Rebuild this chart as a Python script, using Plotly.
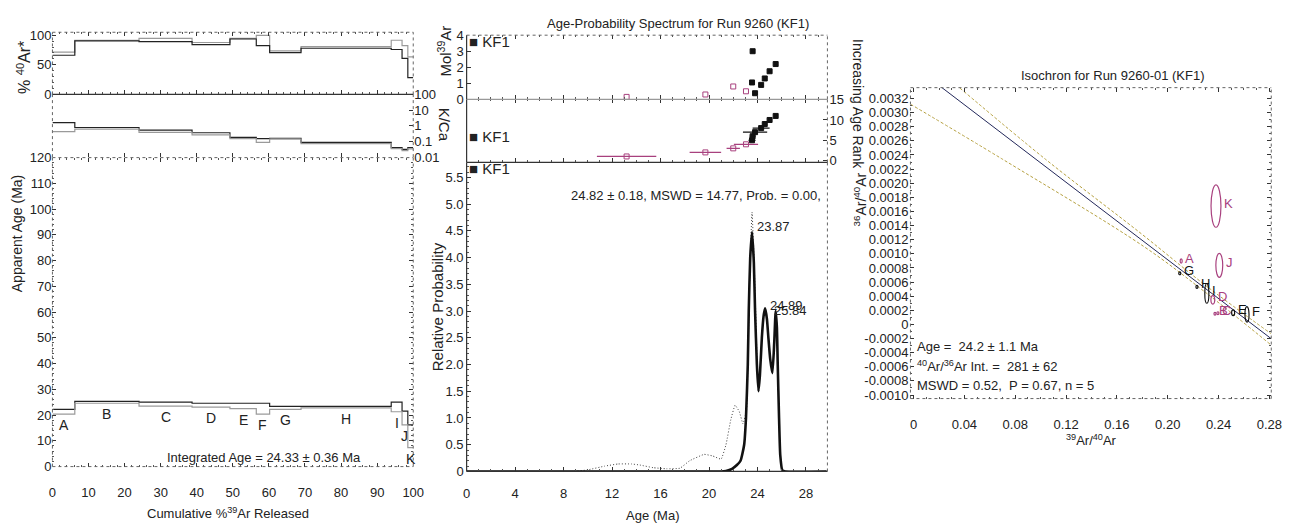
import plotly.graph_objects as go

W, H = 1304, 529
FONT = "Liberation Sans, Arial, sans-serif"

# ---------------- Left: age spectrum ----------------
step_labels = ['A', 'B', 'C', 'D', 'E', 'F', 'G', 'H', 'I', 'J', 'K']
cum_start = [0.0, 6.2, 24.0, 38.7, 49.2, 56.5, 60.2, 68.9, 93.9, 96.9, 98.5]
cum_end = [6.2, 24.0, 38.7, 49.2, 56.5, 60.2, 68.9, 93.9, 96.9, 98.5, 100.0]
app_age = [21.3, 24.95, 24.25, 23.85, 23.55, 22.5, 22.8, 23.1, 23.15, 18.85, 11.8]
app_age_err = [0.9, 0.35, 0.75, 0.75, 1.05, 2.1, 0.6, 0.3, 1.85, 2.65, 4.4]
rad40 = [68.8, 90.85, 91.9, 85.75, 94.05, 90.9, 72.0, 79.25, 83.6, 71.55, 45.95]
rad40_err = [2.7, 0.55, 2.7, 1.85, 0.55, 8.6, 1.5, 1.35, 7.8, 10.75, 17.45]
kca_low = [0.42, 0.61, 0.38, 0.26, 0.15, 0.087, 0.14, 0.072, 0.035, 0.026, 0.034]
kca_high = [1.6, 0.78, 0.53, 0.36, 0.18, 0.15, 0.16, 0.087, 0.040, 0.031, 0.040]
integrated_age_text = "Integrated Age = 24.33 ± 0.36 Ma"
age_ticks = [0, 10, 20, 30, 40, 50, 60, 70, 80, 90, 100, 110, 120]
cum_ticks = [0, 10, 20, 30, 40, 50, 60, 70, 80, 90, 100]
rad_ticks = [0, 50, 100]
kca_ticks = [0.01, 0.1, 1, 10, 100]
kca_ticktext = ['0.01', '0.1', '1', '10', '100']

# ---------------- Middle: age-probability ----------------
prob_age = [0, 21.0, 21.4, 21.9, 22.3, 22.6, 22.9, 23.05, 23.2, 23.28, 23.4, 23.55, 23.7,
            23.8, 23.95, 24.08, 24.2, 24.36, 24.5, 24.63, 24.78, 24.9, 25.05, 25.23, 25.38,
            25.5, 25.6, 25.67, 25.78, 25.88, 26.05, 26.3, 29.7]
prob_val = [0, 0, 0.01, 0.05, 0.12, 0.2, 0.5, 1.0, 2.0, 3.0, 4.0, 4.48, 3.9,
            3.0, 2.0, 1.5, 1.8, 2.5, 2.9, 3.05, 2.85, 2.5, 2.1, 1.84, 2.4,
            3.0, 2.7, 2.0, 1.0, 0.3, 0.02, 0, 0]
prob_all_age = [0, 8.8, 10.0, 11.4, 12.5, 13.6, 14.3, 15.4, 16.5, 17.6, 18.4, 19.6, 20.3,
                21.0, 21.4, 21.8, 22.15, 22.5, 22.8, 23.1, 23.25, 23.4, 23.55, 23.7, 23.85,
                24.0, 24.08]
prob_all_val = [0, 0, 0.03, 0.1, 0.14, 0.14, 0.12, 0.07, 0.05, 0.06, 0.2, 0.32, 0.29,
                0.23, 0.5, 0.97, 1.24, 1.12, 0.89, 1.15, 2.5, 4.0, 4.85, 4.1, 3.0,
                1.8, 1.5]
step_age_ma = [13.2, 19.7, 22.0, 23.05, 23.55, 23.6, 23.8, 24.3, 24.6, 25.0, 25.5]
step_age_err = [2.45, 1.3, 0.55, 1.0, 0.3, 0.25, 1.0, 0.7, 0.2, 0.15, 0.15]
mol39 = [0.15, 0.3, 0.8, 0.5, 1.05, 3.0, 0.38, 0.9, 1.3, 1.75, 2.2]
age_rank = [1, 2, 3, 4, 5, 6, 7, 8, 9, 10, 11]
step_included = [False, False, False, False, True, True, True, True, True, True, True]
peak_text = ['23.87', '24.89', '25.84']
peak_x = [23.55, 24.63, 25.5]
peak_y = [4.48, 3.05, 3.0]
wm_text = "24.82 ± 0.18, MSWD = 14.77, Prob. = 0.00,"
ma_ticks = [0, 4, 8, 12, 16, 20, 24, 28]
prob_ticks = [0, 0.5, 1.0, 1.5, 2.0, 2.5, 3.0, 3.5, 4.0, 4.5, 5.0, 5.5]
prob_ticktext = ['0', '0.5', '1.0', '1.5', '2.0', '2.5', '3.0', '3.5', '4.0', '4.5', '5.0', '5.5']
rank_ticks = [0, 5, 10, 15]
mol_ticks = [0, 1, 2, 3, 4]

# ---------------- Right: isochron ----------------
iso_label = ['A', 'B', 'C', 'D', 'E', 'F', 'G', 'H', 'I', 'J', 'K']
iso_x = [0.2106, 0.2372, 0.2395, 0.2355, 0.2515, 0.2624, 0.2095, 0.2230, 0.2308, 0.2406, 0.2380]
iso_y = [0.000898, 0.000151, 0.000160, 0.000348, 0.000165, 0.000142, 0.000724, 0.000532,
         0.000440, 0.000838, 0.001677]
iso_sx = [0.0008, 0.0008, 0.0008, 0.0015, 0.0012, 0.0016, 0.0008, 0.0008, 0.0016, 0.0027, 0.0039]
iso_sy = [0.00003, 0.00002, 0.00002, 0.00006, 0.00004, 0.00011, 0.00002, 0.00002, 0.00014,
          0.00017, 0.0003]
iso_included = [False, False, False, False, True, True, True, True, True, False, False]
iso_line_x = [0.0, 0.2815]
iso_line_y = [0.00366, -0.000202]
env_up_x = [0.0363, 0.1037, 0.179, 0.23, 0.2815]
env_up_y = [0.00335, 0.002341, 0.001288, 0.00055, -0.000133]
env_lo_x = [-0.0025, 0.07, 0.1815, 0.23, 0.2815]
env_lo_y = [0.00312, 0.00234, 0.0011, 0.00045, -0.000293]
iso_text = ["Age =  24.2 ± 1.1 Ma",
            "<sup>40</sup>Ar/<sup>36</sup>Ar Int. =  281 ± 62",
            "MSWD = 0.52,  P = 0.67, n = 5"]
iso_xticks = [0, 0.04, 0.08, 0.12, 0.16, 0.20, 0.24, 0.28]
iso_xticktext = ['0', '0.04', '0.08', '0.12', '0.16', '0.20', '0.24', '0.28']
iso_yticks = [-0.0010, -0.0008, -0.0006, -0.0004, -0.0002, 0, 0.0002, 0.0004, 0.0006, 0.0008,
              0.0010, 0.0012, 0.0014, 0.0016, 0.0018, 0.0020, 0.0022, 0.0024, 0.0026, 0.0028,
              0.0030, 0.0032]
iso_yticktext = ['-0.0010', '-0.0008', '-0.0006', '-0.0004', '-0.0002', '0', '0.0002', '0.0004',
                 '0.0006', '0.0008', '0.0010', '0.0012', '0.0014', '0.0016', '0.0018', '0.0020',
                 '0.0022', '0.0024', '0.0026', '0.0028', '0.0030', '0.0032']

DARK = '#222222'
GREY = '#9a9a9a'
PINK = '#a8407e'


def px(p):
    return p / W


def py(p):
    return 1 - p / H


def steps(vals):
    return cum_start + [cum_end[-1]], vals + [vals[-1]]


fig = go.Figure()

# ---- age spectrum traces ----
hi = [v + e for v, e in zip(app_age, app_age_err)]
lo = [v - e for v, e in zip(app_age, app_age_err)]
for arr, col in ((hi, DARK), (lo, GREY)):
    sx, sy = steps(arr)
    fig.add_trace(go.Scatter(x=sx, y=sy, mode='lines', line=dict(color=col, width=1.2, shape='hv'),
                             xaxis='x', yaxis='y', hoverinfo='skip'))
rhi = [v + e for v, e in zip(rad40, rad40_err)]
rlo = [v - e for v, e in zip(rad40, rad40_err)]
for arr, col in ((rhi, GREY), (rlo, DARK)):
    sx, sy = steps(arr)
    fig.add_trace(go.Scatter(x=sx, y=sy, mode='lines', line=dict(color=col, width=1.2, shape='hv'),
                             xaxis='x3', yaxis='y3', hoverinfo='skip'))
for arr, col in ((kca_high, DARK), (kca_low, GREY)):
    sx, sy = steps(arr)
    fig.add_trace(go.Scatter(x=sx, y=sy, mode='lines', line=dict(color=col, width=1.2, shape='hv'),
                             xaxis='x2', yaxis='y2', hoverinfo='skip'))

# ---- probability curves ----
fig.add_trace(go.Scatter(x=prob_all_age, y=prob_all_val, mode='lines',
                         line=dict(color='#444444', width=1, dash='1px,2px', shape='spline', smoothing=0.3),
                         xaxis='x4', yaxis='y4', hoverinfo='skip'))
fig.add_trace(go.Scatter(x=prob_age, y=prob_val, mode='lines',
                         line=dict(color='#111111', width=2.6, shape='spline', smoothing=0.5),
                         xaxis='x4', yaxis='y4', hoverinfo='skip'))

inc_idx = [i for i, f in enumerate(step_included) if f]
rej_idx = [i for i, f in enumerate(step_included) if not f]
for idx, sym, col in ((rej_idx, 'square-open', PINK), (inc_idx, 'square', '#111111')):
    fig.add_trace(go.Scatter(x=[step_age_ma[i] for i in idx], y=[mol39[i] for i in idx],
                             mode='markers', marker=dict(symbol=sym, size=5, color=col, line=dict(width=1, color=col)),
                             xaxis='x6', yaxis='y6', hoverinfo='skip'))
    fig.add_trace(go.Scatter(x=[step_age_ma[i] for i in idx], y=[age_rank[i] for i in idx],
                             mode='markers', marker=dict(symbol=sym, size=5, color=col, line=dict(width=1, color=col)),
                             error_x=dict(type='data', array=[step_age_err[i] for i in idx], color=col,
                                          thickness=1.2, width=0),
                             xaxis='x5', yaxis='y5', hoverinfo='skip'))

# ---- isochron ----
fig.add_trace(go.Scatter(x=env_up_x, y=env_up_y, mode='lines',
                         line=dict(color='#b5a040', width=1, dash='3px,2px', shape='spline'),
                         xaxis='x7', yaxis='y7', hoverinfo='skip'))
fig.add_trace(go.Scatter(x=env_lo_x, y=env_lo_y, mode='lines',
                         line=dict(color='#b5a040', width=1, dash='3px,2px', shape='spline'),
                         xaxis='x7', yaxis='y7', hoverinfo='skip'))
fig.add_trace(go.Scatter(x=iso_line_x, y=iso_line_y, mode='lines',
                         line=dict(color='#23285a', width=1),
                         xaxis='x7', yaxis='y7', hoverinfo='skip'))

shapes = []
for i in range(len(iso_x)):
    col = '#111111' if iso_included[i] else PINK
    shapes.append(dict(type='circle', xref='x7', yref='y7',
                       x0=iso_x[i] - iso_sx[i], x1=iso_x[i] + iso_sx[i],
                       y0=iso_y[i] - iso_sy[i], y1=iso_y[i] + iso_sy[i],
                       line=dict(color=col, width=1.2)))


# frames (dotted)
def frame(xr, yr, sides=('t', 'b', 'l', 'r')):
    out = []
    segs = {'t': (0, 1, 1, 1), 'b': (0, 0, 1, 0), 'l': (0, 0, 0, 1), 'r': (1, 0, 1, 1)}
    for s in sides:
        x0, y0, x1, y1 = segs[s]
        out.append(dict(type='line', xref=xr + ' domain', yref=yr + ' domain', x0=x0, y0=y0, x1=x1, y1=y1,
                        line=dict(color='#666666', width=1, dash='dot'), layer='above'))
    return out


def solid(xr, yr, seg, col='#333333'):
    x0, y0, x1, y1 = seg
    return dict(type='line', xref=xr + ' domain', yref=yr + ' domain', x0=x0, y0=y0, x1=x1, y1=y1,
                line=dict(color=col, width=1.2), layer='above')


shapes += frame('x', 'y', ('t', 'b', 'l', 'r'))
shapes += frame('x2', 'y2', ('l', 'r'))
shapes += frame('x3', 'y3', ('t', 'l', 'r'))
shapes.append(solid('x3', 'y3', (0, 0, 1, 0)))
shapes += frame('x4', 'y4', ('r',))
shapes += frame('x5', 'y5', ('r',))
shapes += frame('x6', 'y6', ('t', 'r'))
shapes.append(solid('x4', 'y4', (0, 0, 1, 0)))
shapes.append(solid('x4', 'y4', (0, 0, 0, 1)))
shapes.append(solid('x5', 'y5', (0, 0, 1, 0)))
shapes.append(solid('x5', 'y5', (0, 0, 0, 1)))
shapes.append(solid('x6', 'y6', (0, 0, 1, 0), '#999999'))
shapes.append(solid('x6', 'y6', (0, 0, 0, 1)))
shapes += frame('x7', 'y7')

ann = []


def txt(text, x, y, size=13, angle=0, xanchor='center', yanchor='middle', color='#222222', xref='paper',
        yref='paper', xshift=0, yshift=0):
    ann.append(dict(text=text, x=x, y=y, xref=xref, yref=yref, showarrow=False, textangle=angle,
                    xanchor=xanchor, yanchor=yanchor, xshift=xshift, yshift=yshift,
                    font=dict(family=FONT, size=size, color=color)))


# step letters
for i, lab in enumerate(step_labels):
    txt(lab, (cum_start[i] + cum_end[i]) / 2, lo[i], size=14, xref='x', yref='y', yanchor='top', yshift=-1)
txt(integrated_age_text, px(263), py(464), size=13)

# axis titles (paper)
txt('% <sup>40</sup>Ar*', px(20), py(62), size=16, angle=-90)
txt('Apparent Age (Ma)', px(14), py(233), size=14, angle=-90)
txt('K/Ca', px(446), py(121), size=15, angle=90)
txt('Mol<sup>39</sup>Ar', px(446), py(45), size=15, angle=-90)
txt('Relative Probability', px(438), py(308), size=15, angle=-90)
txt('Increasing Age Rank', px(864), py(100), size=14, angle=90)
txt('<sup>36</sup>Ar/<sup>40</sup>Ar', px(866), py(198), size=14, angle=-90)
txt('Cumulative %<sup>39</sup>Ar Released', px(227), py(521), size=13)
txt('Age (Ma)', px(656), py(523), size=13)
txt('<sup>39</sup>Ar/<sup>40</sup>Ar', px(1100), py(446), size=13)
txt('Age-Probability Spectrum for Run 9260 (KF1)', px(682), py(17), size=13)
txt('Isochron for Run 9260-01 (KF1)', px(1122), py(70), size=13)
txt(wm_text, px(829), py(194), size=13, xanchor='right')
txt('■ KF1', px(468), py(35), size=15, xanchor='left')
txt('■ KF1', px(468), py(133), size=15, xanchor='left')
txt('■ KF1', px(468), py(166), size=15, xanchor='left')

for t, xx, yy, xs, ys in zip(peak_text, peak_x, peak_y, [3, 3, -4], [5, 3, 1]):
    txt(t, xx, yy, size=13, xref='x4', yref='y4', xanchor='left', xshift=xs, yshift=ys)

for i, lab in enumerate(iso_label):
    col = '#111111' if iso_included[i] else PINK
    txt(lab, iso_x[i] + iso_sx[i], iso_y[i], size=13, xref='x7', yref='y7', xanchor='left', color=col,
        xshift=1, yshift=3)
for t, yy in zip(iso_text, [349, 369, 390]):
    txt(t, px(922), py(yy), size=13, xanchor='left')

ax_common = dict(showgrid=False, zeroline=False, showline=False, ticks='inside', ticklen=4,
                 tickcolor='#333333', tickfont=dict(family=FONT, size=13, color='#222222'))
minor = dict(ticks='inside', ticklen=2, tickcolor='#555555')

layout = dict(
    width=W, height=H, margin=dict(l=0, r=0, t=0, b=0), paper_bgcolor='white', plot_bgcolor='white',
    showlegend=False, font=dict(family=FONT, size=13, color='#222222'),
    xaxis=dict(domain=[px(49), px(414)], range=[0, 100], anchor='y', tickvals=cum_ticks,
               mirror='ticks', minor=dict(dtick=2, **minor), ticklabelstandoff=16, **ax_common),
    yaxis=dict(domain=[py(473), py(155)], range=[0, 120], anchor='x', tickvals=age_ticks,
               mirror='ticks', minor=dict(dtick=2, **minor), ticklabelstandoff=0, **ax_common),
    xaxis2=dict(domain=[px(49), px(414)], matches='x', anchor='y2', showticklabels=False, range=[0, 100],
                tickvals=cum_ticks, **ax_common),
    yaxis2=dict(domain=[py(154.5), py(90)], type='log', range=[-2, 2], anchor='x2', side='right',
                tickvals=kca_ticks, ticktext=kca_ticktext, ticklabelstandoff=0, **ax_common),
    xaxis3=dict(domain=[px(49), px(414)], matches='x', anchor='y3', showticklabels=False, range=[0, 100],
                tickvals=cum_ticks, mirror='ticks', minor=dict(dtick=2, **minor), **ax_common),
    yaxis3=dict(domain=[py(90), py(26)], range=[0, 104.9], anchor='x3', tickvals=rad_ticks,
                minor=dict(dtick=10, **minor), ticklabelstandoff=0, **ax_common),
    xaxis4=dict(domain=[px(468), px(833)], range=[0, 29.77], anchor='y4', tickvals=ma_ticks,
                minor=dict(dtick=1, **minor), ticklabelstandoff=13, **ax_common),
    yaxis4=dict(domain=[py(478), py(160)], range=[0, 5.78], anchor='x4', tickvals=prob_ticks,
                ticktext=prob_ticktext, minor=dict(dtick=0.1, **minor), ticklabelstandoff=2, **ax_common),
    xaxis5=dict(domain=[px(468), px(833)], matches='x4', anchor='y5', showticklabels=False,
                range=[0, 29.77], tickvals=ma_ticks, mirror='ticks', minor=dict(dtick=1, **minor), **ax_common),
    yaxis5=dict(domain=[py(160), py(95)], range=[-0.48, 15.1], anchor='x5', side='right',
                tickvals=rank_ticks, ticklabelstandoff=1, **ax_common),
    xaxis6=dict(domain=[px(468), px(833)], matches='x4', anchor='y6', showticklabels=False,
                range=[0, 29.77], tickvals=ma_ticks, mirror='ticks', minor=dict(dtick=1, **minor), **ax_common),
    yaxis6=dict(domain=[py(95), py(29)], range=[0, 4], anchor='x6', tickvals=mol_ticks,
                ticklabelstandoff=2, **ax_common),
    xaxis7=dict(domain=[px(917), px(1282)], range=[-0.0025, 0.2815], anchor='y7', tickvals=iso_xticks,
                ticktext=iso_xticktext, mirror='ticks', minor=dict(dtick=0.01, **minor), ticklabelstandoff=16,
                **ax_common),
    yaxis7=dict(domain=[py(403), py(83)], range=[-0.00105, 0.003354], anchor='x7', tickvals=iso_yticks,
                ticktext=iso_yticktext, mirror='ticks', minor=dict(dtick=0.0001, **minor), ticklabelstandoff=1,
                **ax_common),
    shapes=shapes, annotations=ann,
)
fig.update_layout(**layout)
fig.write_html("out.html")
